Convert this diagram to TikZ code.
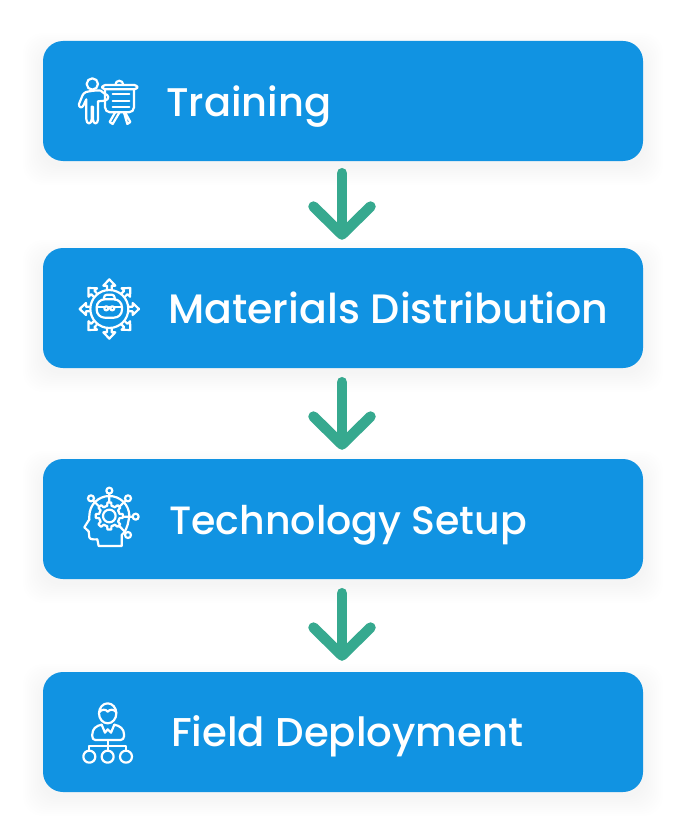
\documentclass[tikz,border=0pt]{standalone}
\usepackage{fontspec}
\setmainfont{Poppins}[UprightFont=* Medium]
\usetikzlibrary{arrows.meta}
\definecolor{boxblue}{RGB}{17,147,226}
\definecolor{arrowgreen}{RGB}{54,169,143}
\tikzset{
  x=1pt,y=-1pt,
  boxnode/.style={fill=boxblue,rounded corners=20pt,minimum width=600pt,minimum height=120pt,inner sep=0pt,draw=none},
  labeltext/.style={anchor=base west,text=white,inner sep=0pt,font=\fontsize{#1}{44}\selectfont},
  flow/.style={draw=arrowgreen,line width=10.5pt,line cap=round,
    -{Straight Barb[length=28pt,width=57pt,round,line width=10.5pt]}},
  ic/.style={draw=white,line width=2.2pt,line join=round,line cap=round},
  iconzoom/.style={shift={#1},scale=0.3333}
}
\begin{document}
\begin{tikzpicture}
\useasboundingbox (0,0) rectangle (690,840);
\fill[white] (0,0) rectangle (690,840);
% soft shadows
\foreach \yt in {41,248,459,672}{
  \foreach \g in {2,4,...,20}{
    \fill[black,opacity=0.005,rounded corners=20pt]
      (43-\g,\yt+12-\g) rectangle (643+\g,\yt+124+\g);
  }
}
% boxes
\node[boxnode] (b1) at (343,101) {};
\node[boxnode] (b2) at (343,308) {};
\node[boxnode] (b3) at (343,519) {};
\node[boxnode] (b4) at (343,732) {};
% labels
\node[labeltext=40] (t1) at (166,117) {Training};
\node[labeltext=41.1] (t2) at (168,323) {Materials Distribution};
\node[labeltext=39.5] (t3) at (169,534) {Technology Setup};
\node[labeltext=40.2] (t4) at (171,746) {Field Deployment};
% connectors
\draw[flow,shorten <=12pt,shorten >=8pt,transform canvas={xshift=-1pt}] (b1.south) -- (b2.north);
\draw[flow,shorten <=14pt,shorten >=9pt,transform canvas={xshift=-1pt}] (b2.south) -- (b3.north);
\draw[flow,shorten <=14pt,shorten >=11pt,transform canvas={xshift=-1pt}] (b3.south) -- (b4.north);
% icon 1: trainer at board
\begin{scope}[iconzoom={(60,60)}]
  \draw[ic] (97,72) circle (17);
  \draw[ic] (88,94) .. controls (72,95) and (68,103) .. (64,115) -- (57,132)
    .. controls (55,142) and (66,146) .. (70,137) -- (79,118) -- (79,178)
    .. controls (79,194) and (95,194) .. (95,178) -- (95,140) -- (99,140) -- (99,178)
    .. controls (99,194) and (114,194) .. (114,178) -- (114,124) -- (135,122)
    .. controls (150,118) and (146,103) .. (135,102) -- (122,92) .. controls (115,90) and (100,92) .. (88,94);
  \draw[ic,rounded corners=3pt] (127,75) rectangle (232,88);
  \draw[ic,rounded corners=5pt] (135,88) -- (135,157) -- (222,157) -- (222,88);
  \draw[ic] (166,75) .. controls (166,58) and (190,58) .. (190,75);
  \draw[ic] (158,103) -- (208,103) (158,122) -- (208,122) (158,141) -- (208,141);
  \draw[ic] (165,158) -- (149,186) -- (158,192) -- (178,158);
  \draw[ic] (192,158) -- (202,192) -- (211,186) -- (196,158);
\end{scope}
% icon 2: briefcase with arrows
\begin{scope}[iconzoom={(60,270)}]
  \draw[ic] (148,117) circle (57);
  \draw[ic,rounded corners=8pt] (110,88) rectangle (186,143);
  \draw[ic,rounded corners=3pt] (132,88) -- (132,74) -- (164,74) -- (164,88);
  \draw[ic] (110,112) -- (133,112) (163,112) -- (186,112) (145,112) -- (151,112);
  \draw[ic] (139,115) circle (6) (157,115) circle (6);
  \foreach \a in {0,45,...,315}{
    \begin{scope}[shift={(148,117)},rotate=\a]
      \draw[ic] (-7,-60) -- (-7,-70) -- (-18,-70) -- (0,-89) -- (18,-70) -- (7,-70) -- (7,-60);
    \end{scope}
  }
\end{scope}
% icon 3: head with gear
\begin{scope}[iconzoom={(60,480)}]
  \draw[ic] (88,120) -- (88,108) arc[start angle=180,end angle=360,radius=60] -- (206,120);
  \draw[ic] (88,118) -- (73,142) -- (86,154) -- (88,172) .. controls (90,180) and (105,178) .. (112,178)
    -- (116,198) -- (185,198) -- (185,165) .. controls (195,158) and (203,140) .. (206,120);
  \begin{scope}[shift={(148,108)}]
    \draw[ic] (0,0) circle (19);
    \foreach \a in {0,45,...,315}{
      \draw[ic] (\a-22.5:31) -- (\a-12:31) -- (\a-8:41) -- (\a+8:41) -- (\a+12:31) -- (\a+22.5:31);
    }
  \end{scope}
  \draw[ic] (148,32) circle (9) (93,55) circle (9) (204,55) circle (9) (227,110) circle (9) (204,165) circle (9);
  \draw[ic] (148,41) -- (148,67) (100,62) -- (118,80) (197,62) -- (178,80) (218,110) -- (189,110) (197,158) -- (178,138);
\end{scope}
% icon 4: manager with team
\begin{scope}[iconzoom={(60,695)}]
  \draw[ic] (143,55) ellipse (26 and 30);
  \draw[ic] (117,52) .. controls (125,42) and (138,42) .. (143,50) .. controls (150,42) and (162,42) .. (169,52);
  \draw[ic] (125,89) .. controls (108,92) and (97,102) .. (97,118) -- (97,124)
    .. controls (97,130) and (100,135) .. (106,135) -- (182,135) .. controls (188,135) and (192,130) .. (192,124)
    -- (192,118) .. controls (192,102) and (180,92) .. (163,89);
  \draw[ic] (125,89) -- (135,113) -- (143,103) -- (153,113) -- (163,89);
  \draw[ic] (143,135) -- (143,167) (88,167) -- (88,152) -- (198,152) -- (198,167);
  \draw[ic] (88,185) circle (18) (143,185) circle (18) (198,185) circle (18);
\end{scope}
\end{tikzpicture}
\end{document}
